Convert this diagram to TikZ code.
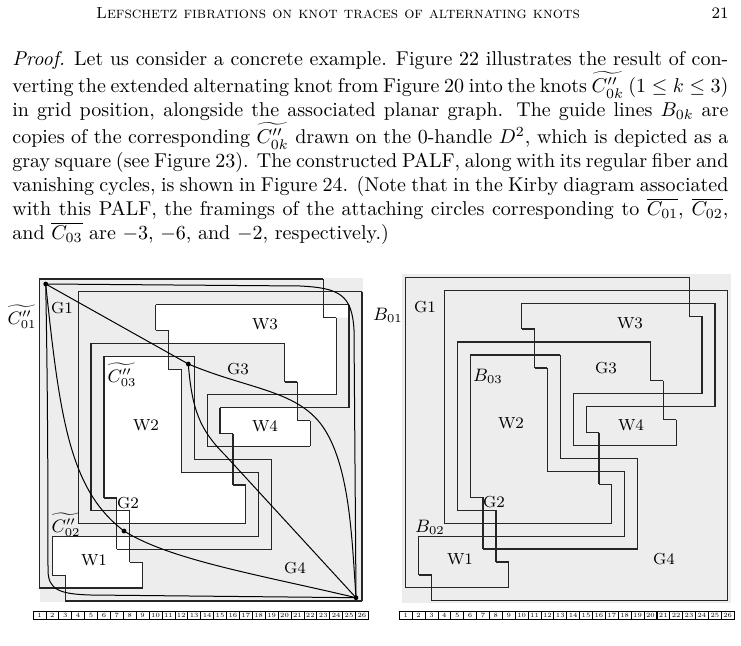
\documentclass[tikz,border=0pt]{standalone}
\usepackage{amsmath,amssymb}
\begin{document}
\newcommand\mygridlines{%
\foreach \a/\b/\r in {1/23/1,4/26/2,10/25/3,23/24/4,10/11/5,5/20/6,6/13/7,11/12/8,20/21/9,14/24/10,15/25/11,21/22/12,15/16/13,14/22/14,13/19/15,12/18/16,16/17/17,6/7/18,5/8/19,4/17/20,2/18/21,7/19/22,8/9/23,2/3/24,1/9/25,3/26/26}{\draw[gl] (\a,\r) -- (\b,\r);}
\foreach \c/\p/\q in {1/1/25,2/21/24,3/24/26,4/2/20,5/6/19,6/7/18,7/18/22,8/19/23,9/23/25,10/3/5,11/5/8,12/8/16,13/7/15,14/10/14,15/11/13,16/13/17,17/17/20,18/16/21,19/15/22,20/6/9,21/9/12,22/12/14,23/1/4,24/4/10,25/3/11,26/2/26}{\draw[gl] (\c,\p) -- (\c,\q);}}
\newcommand\mystrip[1]{%
\foreach \i in {1,...,26}{\node[sb] (s#1\i) at ({\i-0.5},0) {\i};}}
\begin{tikzpicture}[x=0.5pt,y=-0.5pt,
  gl/.style={line width=0.6pt,black!85},
  cv/.style={line width=0.5pt},
  lab/.style={font=\footnotesize},
  cl/.style={font=\small,inner sep=1pt},
  sb/.style={draw,line width=0.4pt,minimum width=6.45pt,minimum height=4pt,inner sep=0pt,font=\fontsize{3.2}{3.2}\selectfont}]
\useasboundingbox (0,0) rectangle (741,646);
\node[font=\footnotesize] (hd) at (338,13) {\textsc{Lefschetz fibrations on knot traces of alternating knots}};
\node[font=\footnotesize] (pg) at (720,13) {21};
\node[anchor=north west,inner sep=0pt,text width=358pt,align=justify] (txt) at (12,51) {%
\textit{Proof.} Let us consider a concrete example. Figure 22 illustrates the result of con-\linebreak
verting the extended alternating knot from Figure 20 into the knots $\widetilde{C''_{0k}}$ $(1\le k\le 3)$\linebreak
in grid position, alongside the associated planar graph. The guide lines $B_{0k}$ are\linebreak
copies of the corresponding $\widetilde{C''_{0k}}$ drawn on the 0-handle $D^2$, which is depicted as a\linebreak
gray square (see Figure 23). The constructed PALF, along with its regular fiber and\linebreak
vanishing cycles, is shown in Figure 24. (Note that in the Kirby diagram associated\linebreak
with this PALF, the framings of the attaching circles corresponding to $\overline{C_{01}}$, $\overline{C_{02}}$,\linebreak
and $\overline{C_{03}}$ are $-3$, $-6$, and $-2$, respectively.)};
% backgrounds
\fill[black!7] (40,278) rectangle (363,602);
\fill[black!7] (402,274) rectangle (731,603);
% left grid
\begin{scope}[shift={(26.55,266.1)},x=6.45pt,y=-6.44pt]
\fill[white] (10,3)--(25,3)--(25,4)--(24,4)--(24,10)--(21,10)--(21,9)--(20,9)--(20,6)--(11,6)--(11,5)--(10,5)--cycle;
\fill[white] (6,7)--(11,7)--(11,8)--(12,8)--(12,16)--(16,16)--(16,17)--(17,17)--(17,20)--(7,20)--(7,18)--(6,18)--cycle;
\fill[white] (15,11)--(21,11)--(21,12)--(22,12)--(22,14)--(16,14)--(16,13)--(15,13)--cycle;
\fill[white] (2,21)--(8,21)--(8,23)--(9,23)--(9,25)--(3,25)--(3,24)--(2,24)--cycle;
\mygridlines
\end{scope}
\begin{scope}[shift={(33,615)},x=6.45pt]
\mystrip{a}
\end{scope}
% left curves
\coordinate (TL) at (45.7,284);
\coordinate (MD) at (188.3,364);
\coordinate (LD) at (124,531);
\coordinate (BR) at (356,597.7);
\fill (TL) circle (1.2pt); \fill (MD) circle (1.2pt); \fill (LD) circle (1.2pt); \fill (BR) circle (1.2pt);
\draw[cv] (TL) -- (MD) .. controls (250,390) and (300,390) .. (325,430) .. controls (350,470) and (352,540) .. (BR);
\draw[cv] (TL) -- (300,286) .. controls (340,288) and (352,295) .. (354,330) -- (BR);
\draw[cv] (TL) .. controls (48,400) and (48,520) .. (48,570) .. controls (48,590) and (60,594) .. (90,595) -- (BR);
\draw[cv] (TL) .. controls (60,420) and (70,490) .. (LD) .. controls (170,560) and (260,575) .. (BR);
\draw[cv] (MD) .. controls (192,410) and (200,430) .. (225,455) -- (BR);
\node[lab] (g1a) at (62,308) {G1};
\node[lab] (w3a) at (265,324) {W3};
\node[lab] (g3a) at (238,369) {G3};
\node[lab] (w2a) at (146,425) {W2};
\node[lab] (w4a) at (265,426) {W4};
\node[lab] (g2a) at (128,503) {G2};
\node[lab] (w1a) at (94,560) {W1};
\node[lab] (g4a) at (295,568) {G4};
\node[cl] (c01) at (22,317) {$\widetilde{C''_{01}}$};
\node[cl] (c03) at (122,375) {$\widetilde{C''_{03}}$};
\node[cl] (c02) at (66,525) {$\widetilde{C''_{02}}$};
% right grid
\begin{scope}[shift={(392.9,264.4)},x=6.44pt,y=-6.47pt]
\mygridlines
\end{scope}
\begin{scope}[shift={(399.3,615)},x=6.44pt]
\mystrip{b}
\end{scope}
\node[lab] (g1b) at (425,307) {G1};
\node[lab] (w3b) at (630,323) {W3};
\node[lab] (g3b) at (606,368) {G3};
\node[lab] (w2b) at (511,423) {W2};
\node[lab] (w4b) at (631,425) {W4};
\node[lab] (g2b) at (494,502) {G2};
\node[lab] (w1b) at (460,559) {W1};
\node[lab] (g4b) at (664,559) {G4};
\node[cl] (b01) at (388,315) {$B_{01}$};
\node[cl] (b03) at (488,376) {$B_{03}$};
\node[cl] (b02) at (430,527) {$B_{02}$};
\end{tikzpicture}
\end{document}
